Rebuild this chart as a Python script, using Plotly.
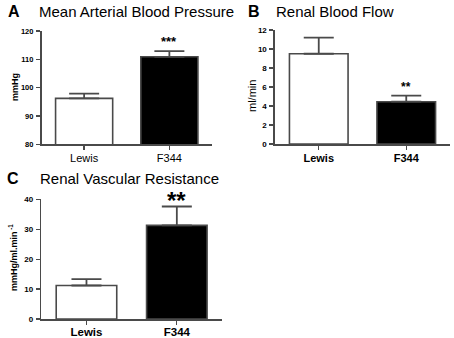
import plotly.graph_objects as go

W, H = 454, 338

categories = ["Lewis", "F344"]

map_mean = [96.2, 110.9]
map_err = [1.7, 2.0]

rbf_mean = [9.5, 4.45]
rbf_err = [1.7, 0.65]

rvr_mean = [11.2, 31.3]
rvr_err = [2.1, 6.3]

stars_a = "***"
stars_b = "**"
stars_c = "**"

map_ticks = [80, 90, 100, 110, 120]
rbf_ticks = [0, 2, 4, 6, 8, 10, 12]
rvr_ticks = [0, 10, 20, 30, 40]

FONT = "Liberation Sans, Arial, sans-serif"
GRAY = "#4a4a4a"
bar_colors = ["white", "black"]


def fx(px):
    return px / W


def fy(py):
    return 1 - py / H


fig = go.Figure()

panels = [
    ("x", "y", map_mean, map_err),
    ("x2", "y2", rbf_mean, rbf_err),
    ("x3", "y3", rvr_mean, rvr_err),
]
for xa, ya, mean, err in panels:
    fig.add_trace(go.Bar(
        x=categories, y=mean, xaxis=xa, yaxis=ya,
        width=0.67,
        marker=dict(color=bar_colors, line=dict(color=GRAY, width=1.6)),
        error_y=dict(type="data", symmetric=False, array=err,
                     arrayminus=[0, 0], color=GRAY, thickness=1.8, width=15),
        showlegend=False, hoverinfo="skip",
    ))

common_x = dict(showline=True, linecolor=GRAY, linewidth=1.6, ticks="outside",
                ticklen=4, tickwidth=1.3, tickcolor=GRAY, range=[-0.5, 1.5],
                showgrid=False, zeroline=False, fixedrange=True, automargin=False)
common_y = dict(showline=True, linecolor=GRAY, linewidth=1.6, ticks="outside",
                ticklen=4, tickwidth=1.3, tickcolor=GRAY, showgrid=False,
                zeroline=False, fixedrange=True, ticklabelstandoff=1,
                automargin=False)

fig.update_layout(
    width=W, height=H,
    margin=dict(l=0, r=0, t=0, b=0, autoexpand=False),
    paper_bgcolor="white", plot_bgcolor="white",
    font=dict(family=FONT, color="black"),
    bargap=0.3,
    xaxis=dict(common_x, domain=[fx(41.5), fx(212)], anchor="y",
               ticklabelstandoff=-1,
               tickfont=dict(size=11, family=FONT)),
    yaxis=dict(common_y, domain=[fy(144.3), fy(31)], anchor="x",
               range=[80, 120], tickvals=map_ticks,
               tickfont=dict(size=7.5, family=FONT, weight="bold")),
    xaxis2=dict(common_x, domain=[fx(275), fx(450)], anchor="y2",
                ticklabelstandoff=-1,
                tickfont=dict(size=11, family=FONT, weight="bold")),
    yaxis2=dict(common_y, domain=[fy(144), fy(30)], anchor="x2",
                range=[0, 12], tickvals=rbf_ticks,
                tickfont=dict(size=8, family=FONT, weight="bold")),
    xaxis3=dict(common_x, domain=[fx(41.3), fx(222)], anchor="y3",
                ticklabelstandoff=-2,
                tickfont=dict(size=11.5, family=FONT, weight="bold")),
    yaxis3=dict(common_y, domain=[fy(319), fy(199.3)], anchor="x3",
                range=[0, 40], tickvals=rvr_ticks,
                tickfont=dict(size=8, family=FONT, weight="bold")),
)

ann = []
# panel letters
for letter, x, y in [("A", 6, 12), ("B", 246, 12), ("C", 5, 178)]:
    ann.append(dict(text="<b>%s</b>" % letter, x=fx(x), y=fy(y), xref="paper",
                    yref="paper", xanchor="left", yanchor="middle",
                    showarrow=False, font=dict(size=16, family=FONT)))
# titles
for t, x, y in [("Mean Arterial Blood Pressure", 37, 12),
                ("Renal Blood Flow", 274, 12),
                ("Renal Vascular Resistance", 38, 178)]:
    ann.append(dict(text=t, x=fx(x), y=fy(y), xref="paper", yref="paper",
                    xanchor="left", yanchor="middle", showarrow=False,
                    font=dict(size=15, family=FONT)))
# y-axis titles
ann.append(dict(text="<b>mmHg</b>", x=fx(15), y=fy(87), xref="paper",
                yref="paper", textangle=-90, showarrow=False,
                xanchor="center", yanchor="middle", font=dict(size=9, family=FONT)))
ann.append(dict(text="ml/min", x=fx(252), y=fy(96), xref="paper",
                yref="paper", textangle=-90, showarrow=False,
                xanchor="center", yanchor="middle", font=dict(size=11, family=FONT)))
ann.append(dict(text="<b>mmHg/ml.min<sup> -1</sup></b>", x=fx(13), y=fy(258),
                xref="paper", yref="paper", textangle=-90, showarrow=False,
                xanchor="center", yanchor="middle", font=dict(size=9, family=FONT)))
# significance stars
ann.append(dict(text="<b>%s</b>" % stars_a, x="F344", y=map_mean[1] + map_err[1],
                xref="x", yref="y", yanchor="bottom", yshift=0, showarrow=False,
                font=dict(size=13, family=FONT)))
ann.append(dict(text="<b>%s</b>" % stars_b, x="F344", y=rbf_mean[1] + rbf_err[1],
                xref="x2", yref="y2", yanchor="bottom", yshift=0, showarrow=False,
                font=dict(size=12, family=FONT)))
ann.append(dict(text="<b>%s</b>" % stars_c, x="F344", y=rvr_mean[1] + rvr_err[1],
                xref="x3", yref="y3", yanchor="bottom", yshift=-10, showarrow=False,
                font=dict(size=24, family=FONT)))

fig.update_layout(annotations=ann)
fig.write_html("out.html",
               config={"displayModeBar": False, "staticPlot": True},
               post_script="document.body.style.margin='0';"
                           "document.body.style.overflow='hidden';")
